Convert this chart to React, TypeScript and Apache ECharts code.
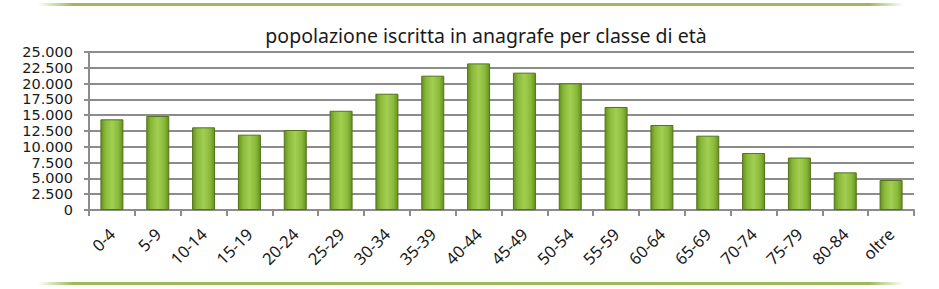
import React, { useEffect, useRef } from "react";
import * as echarts from "echarts";

const categories = ["0-4", "5-9", "10-14", "15-19", "20-24", "25-29", "30-34", "35-39", "40-44", "45-49", "50-54", "55-59", "60-64", "65-69", "70-74", "75-79", "80-84", "oltre"];
const values = [14350, 14870, 13080, 11920, 12660, 15700, 18400, 21250, 23200, 21730, 20040, 16300, 13450, 11760, 9020, 8300, 5960, 4750];
const titleText = "popolazione iscritta in anagrafe per classe di età";

const fmt = (v: number) => {
  const s = Math.round(v).toString();
  return s.replace(/\B(?=(\d{3})+(?!\d))/g, ".");
};

export default function App() {
  const ref = useRef<HTMLDivElement>(null);
  useEffect(() => {
    if (!ref.current) return;
    const chart = echarts.init(ref.current, null, { renderer: "svg" });
    const lineGrad = new echarts.graphic.LinearGradient(0, 0, 1, 0, [
      { offset: 0, color: "rgba(155,187,89,0)" },
      { offset: 0.04, color: "#9bbb59" },
      { offset: 0.96, color: "#9bbb59" },
      { offset: 1, color: "rgba(155,187,89,0)" },
    ]);
    chart.setOption({
      animation: false,
      backgroundColor: "#ffffff",
      textStyle: { fontFamily: "Noto Sans" },
      title: {
        text: titleText,
        left: 481,
        textAlign: "center",
        top: 20,
        textStyle: { fontFamily: "Noto Sans", fontSize: 19.5, fontWeight: "normal", color: "#1a1a1a" },
      },
      graphic: [
        { type: "rect", shape: { x: 38, y: 3, width: 866, height: 3 }, style: { fill: lineGrad } },
        { type: "rect", shape: { x: 38, y: 282, width: 866, height: 3 }, style: { fill: lineGrad } },
      ],
      grid: { left: 89, right: 25, top: 52, bottom: 79 },
      xAxis: {
        type: "category",
        data: categories,
        axisLine: { lineStyle: { color: "#8c8c8c", width: 2 } },
        axisTick: { show: true, length: 6, lineStyle: { color: "#8c8c8c", width: 2 } },
        axisLabel: { rotate: 45, margin: 21, fontSize: 16.5, color: "#1a1a1a", interval: 0 },
      },
      yAxis: {
        type: "value",
        min: 0,
        max: 25000,
        interval: 2500,
        axisLine: { show: true, lineStyle: { color: "#8c8c8c", width: 2 } },
        axisTick: { show: true, length: 5, lineStyle: { color: "#8c8c8c", width: 2 } },
        splitLine: { lineStyle: { color: "#8c8c8c", width: 2 } },
        axisLabel: {
          fontFamily: "DejaVu Sans",
          fontSize: 14.5,
          lineHeight: 14,
          color: "#1a1a1a",
          margin: 16,
          showMinLabel: true,
          showMaxLabel: true,
          hideOverlap: false,
          formatter: (v: number) => fmt(v),
        },
      },
      series: [
        {
          type: "bar",
          data: values,
          barWidth: 23,
          itemStyle: {
            color: new echarts.graphic.LinearGradient(0, 0, 1, 0, [
              { offset: 0, color: "#66901f" },
              { offset: 0.2, color: "#89b93a" },
              { offset: 0.5, color: "#a2cf52" },
              { offset: 0.8, color: "#89b93a" },
              { offset: 1, color: "#66901f" },
            ]),
            borderColor: "#53731a",
            borderWidth: 1,
          },
        },
      ],
    });
    return () => chart.dispose();
  }, []);
  return <div ref={ref} style={{ width: 939, height: 289, position: "absolute", left: 0, top: 0 }} />;
}
